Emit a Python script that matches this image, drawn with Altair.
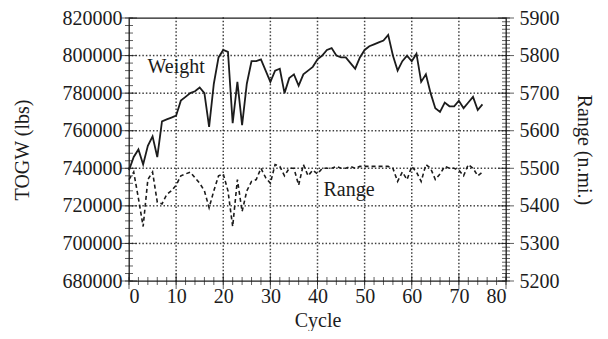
import altair as alt
import pandas as pd

# ---- data ----
cycles = list(range(76))
weight_lbs = [
    739000, 746000, 750000, 742000, 752000, 757000, 746000, 765000, 766000, 767000,
    768000, 776000, 778000, 780000, 781000, 783000, 780000, 762000, 785000, 799000,
    803000, 802000, 764000, 786000, 763000, 785000, 797000, 797000, 798000, 792000,
    786000, 792000, 793000, 780000, 788000, 790000, 784000, 790000, 792000, 794000,
    798000, 800000, 803000, 804000, 800000, 799000, 799000, 796000, 793000, 799000,
    803000, 805000, 806000, 807000, 808000, 811000, 800000, 792000, 797000, 800000,
    797000, 801000, 786000, 790000, 780000, 772000, 770000, 775000, 773000, 773000,
    776000, 772000, 775000, 778000, 771000, 774000,
]
range_nmi = [
    5470, 5490, 5420, 5345, 5470, 5490, 5410, 5405, 5430, 5440,
    5455, 5480, 5485, 5490, 5475, 5460, 5440, 5395, 5440, 5480,
    5485, 5440, 5345, 5470, 5385, 5440, 5465, 5470, 5500, 5475,
    5460, 5510, 5505, 5480, 5500, 5500, 5455, 5510, 5480, 5495,
    5485, 5500, 5500, 5500, 5505, 5500, 5500, 5505, 5500, 5505,
    5505, 5505, 5505, 5505, 5505, 5505, 5500, 5465, 5490, 5470,
    5505, 5490, 5465, 5510, 5500, 5470, 5485, 5505, 5500, 5500,
    5495, 5480, 5510, 5500, 5480, 5490,
]
x_ticks_major = [0, 10, 20, 30, 40, 50, 60, 70, 80]
x_ticks_minor = list(range(0, 81, 2))
left_ticks_major = [680000, 700000, 720000, 740000, 760000, 780000, 800000, 820000]
left_ticks_minor = list(range(680000, 820001, 4000))
right_ticks_major = [5200, 5300, 5400, 5500, 5600, 5700, 5800, 5900]
right_ticks_minor = list(range(5200, 5901, 10))
series_labels = ["Weight", "Range"]
label_cycle = [10.0, 46.7]
label_value = [794000, 5441]

# ---- styling ----
FONT = "Liberation Serif"
INK = "#1c1c1c"
W, H = 377, 263
DOT_GAP_PX = 3.5

df = pd.DataFrame({"cycle": cycles, "weight": weight_lbs, "range": range_nmi})

x_lo, x_hi = x_ticks_major[0], x_ticks_major[-1]
y_lo, y_hi = left_ticks_major[0], left_ticks_major[-1]
x_scale = alt.Scale(domain=[x_lo, x_hi], nice=False, zero=False)
left_scale = alt.Scale(domain=[y_lo, y_hi], nice=False, zero=False)
right_scale = alt.Scale(domain=[right_ticks_major[0], right_ticks_major[-1]], nice=False, zero=False)

x_axis = alt.Axis(title="Cycle", values=x_ticks_major, format="d", grid=False,
                  tickSize=0, domain=False, labelPadding=5, titlePadding=4,
                  labelFont=FONT, titleFont=FONT)
left_axis = alt.Axis(title="TOGW (lbs)", orient="left", values=left_ticks_major, format="d",
                     grid=False, tickSize=0, domain=False, labelPadding=7, titlePadding=30,
                     labelFont=FONT, titleFont=FONT)
right_axis = alt.Axis(title="Range (n.mi.)", orient="right", values=right_ticks_major,
                      format="d", grid=False, tickSize=0, domain=False,
                      labelPadding=13, titlePadding=14, labelFont=FONT, titleFont=FONT)

X = alt.X("cycle:Q", scale=x_scale, axis=x_axis)
XV = alt.X("v:Q", scale=x_scale, axis=x_axis)

# dotted grid built as rows of small dots along each major tick line
n_vdots = int(H / DOT_GAP_PX)
n_hdots = int(W / DOT_GAP_PX)
dot_rows = []
for v in x_ticks_major[1:-1]:
    for i in range(n_vdots + 1):
        dot_rows.append({"gx": v, "gy": y_lo + (y_hi - y_lo) * i / n_vdots})
for v in left_ticks_major[1:-1]:
    for i in range(n_hdots + 1):
        dot_rows.append({"gx": x_lo + (x_hi - x_lo) * i / n_hdots, "gy": v})
grid = alt.Chart(pd.DataFrame(dot_rows)).mark_square(
    size=2.2, color=INK, opacity=0.85).encode(
    x=alt.X("gx:Q", scale=x_scale, axis=x_axis),
    y=alt.Y("gy:Q", scale=left_scale, axis=None),
)

# inward tick marks
left_minor = alt.Chart(pd.DataFrame({"v": left_ticks_minor})).mark_tick(
    color=INK, orient="horizontal", size=8, thickness=1).encode(
    y=alt.Y("v:Q", scale=left_scale, axis=None), x=alt.value(0))
left_major = alt.Chart(pd.DataFrame({"v": left_ticks_major})).mark_tick(
    color=INK, orient="horizontal", size=16, thickness=1).encode(
    y=alt.Y("v:Q", scale=left_scale, axis=None), x=alt.value(0))
x_minor = alt.Chart(pd.DataFrame({"v": x_ticks_minor})).mark_tick(
    color=INK, orient="vertical", size=8, thickness=1).encode(
    x=XV, y=alt.value(H))
x_major = alt.Chart(pd.DataFrame({"v": x_ticks_major})).mark_tick(
    color=INK, orient="vertical", size=16, thickness=1).encode(
    x=XV, y=alt.value(H))
right_minor = alt.Chart(pd.DataFrame({"v": right_ticks_minor})).mark_tick(
    color=INK, orient="horizontal", size=8, thickness=1).encode(
    y=alt.Y("v:Q", scale=right_scale, axis=None), x=alt.value(W))
right_major = alt.Chart(pd.DataFrame({"v": right_ticks_major})).mark_tick(
    color=INK, orient="horizontal", size=16, thickness=1).encode(
    y=alt.Y("v:Q", scale=right_scale, axis=None), x=alt.value(W))

weight_line = alt.Chart(df).mark_line(color=INK, strokeWidth=1.8).encode(
    x=X, y=alt.Y("weight:Q", scale=left_scale, axis=left_axis))
weight_text = alt.Chart(pd.DataFrame({
    "cycle": [label_cycle[0]], "weight": [label_value[0]], "t": [series_labels[0]]
})).mark_text(font=FONT, fontSize=20, color=INK).encode(
    x=X, y=alt.Y("weight:Q", scale=left_scale, axis=None), text="t:N")

range_line = alt.Chart(df).mark_line(color=INK, strokeWidth=1.6, strokeDash=[4, 3]).encode(
    x=X, y=alt.Y("range:Q", scale=right_scale, axis=right_axis))
range_text = alt.Chart(pd.DataFrame({
    "cycle": [label_cycle[1]], "range": [label_value[1]], "t": [series_labels[1]]
})).mark_text(font=FONT, fontSize=20, color=INK).encode(
    x=X, y=alt.Y("range:Q", scale=right_scale, axis=None), text="t:N")

chart = alt.layer(
    left_minor, left_major, x_minor, x_major, right_minor, right_major, grid,
    weight_line, weight_text, range_line, range_text,
).resolve_scale(y="independent").properties(
    width=W, height=H,
    autosize=alt.AutoSizeParams(type="none"),
    padding={"left": 121, "top": 10, "right": 94, "bottom": 50},
    background="white",
).configure_view(stroke=INK, strokeWidth=1.3).configure_axis(
    labelFont=FONT, titleFont=FONT, labelFontSize=20, titleFontSize=20,
    labelColor=INK, titleColor=INK, titleFontWeight="normal",
)

chart.save("out.html", embed_options={"renderer": "svg", "actions": False})
